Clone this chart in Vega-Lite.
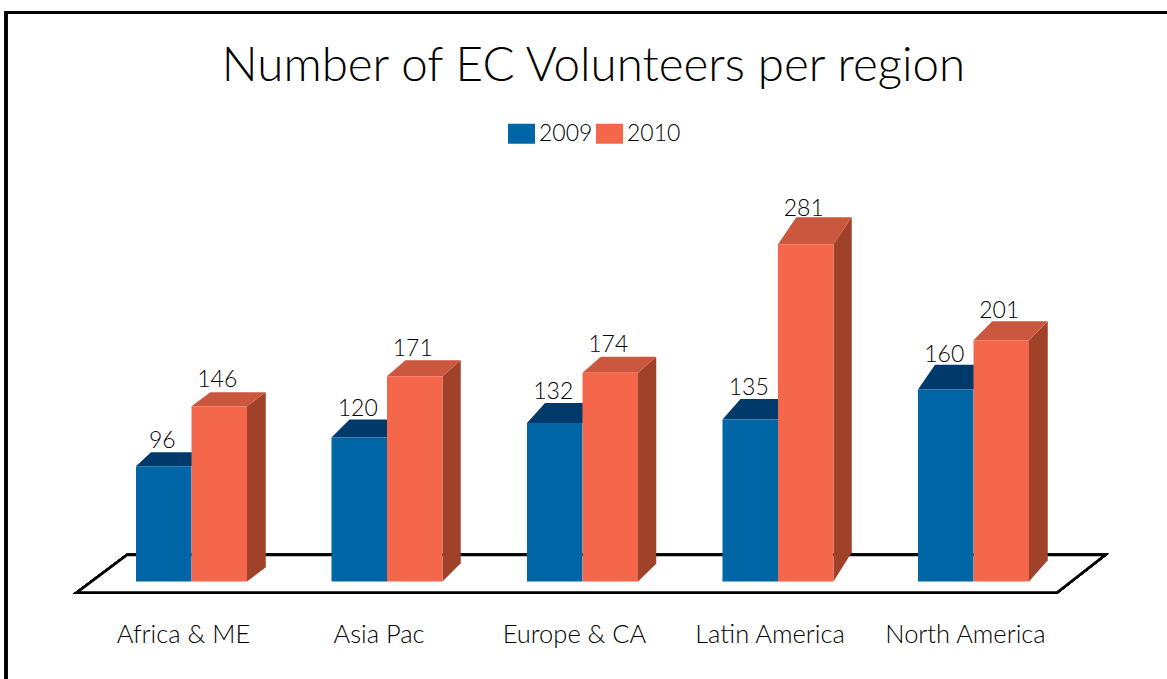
{
"$schema":"https://vega.github.io/schema/vega-lite/v6.json",
"width":1167,"height":582,
"autosize":{"type":"none"},
"padding":{"left":0,"top":0,"right":0,"bottom":97},
"background":"white",
"title":{"text":"Number of EC Volunteers per region","font":"Lato","fontWeight":300,"fontSize":47.5,"color":"#000000","anchor":"middle","baseline":"alphabetic","offset":0,"dy":128,"dx":10},
"config":{"view":{"stroke":null},"font":"Lato"},
"data":{"values":[
{"region":"Africa & ME","year":"2009","value":96},
{"region":"Asia Pac","year":"2009","value":120},
{"region":"Europe & CA","year":"2009","value":132},
{"region":"Latin America","year":"2009","value":135},
{"region":"North America","year":"2009","value":160},
{"region":"Africa & ME","year":"2010","value":146},
{"region":"Asia Pac","year":"2010","value":171},
{"region":"Europe & CA","year":"2010","value":174},
{"region":"Latin America","year":"2010","value":281},
{"region":"North America","year":"2010","value":201}
]},
"layer":[
{"mark":{"type":"point","filled":true,"size":4,"fill":"white","stroke":"black","strokeWidth":2.5,"opacity":1,"strokeJoin":"miter","shape":"M-455.5,-26.5 L522.5,-26.5 L474.5,11 L-505.5,11 Z"},
 "encoding":{"x":{"datum":"Europe & CA","type":"nominal","scale":{"domain":["Africa & ME","Asia Pac","Europe & CA","Latin America","North America"],"range":[93.75,1071.25],"paddingInner":0,"paddingOuter":0}},
 "y":{"datum":0,"type":"quantitative","axis":null,"scale":{"domain":[0,484.6],"range":[581.5,0],"nice":false}}}},
{"mark":{"type":"point","filled":false,"size":4,"fill":null,"stroke":"black","strokeWidth":2.5,"opacity":1,"shape":"M-576.5,100 L-576.5,-569 L590,-569"},
 "encoding":{"x":{"datum":"Europe & CA","type":"nominal"},
 "y":{"datum":0,"type":"quantitative","axis":null,"scale":{"domain":[0,484.6],"range":[581.5,0],"nice":false}}}},
{"transform":[{"filter":"datum.year==='2009'"}],
 "mark":{"type":"point","filled":true,"size":4,"fill":"#003A6B","opacity":1,"strokeWidth":0},
 "encoding":{"x":{"field":"region","type":"nominal"},
 "xOffset":{"field":"year","type":"nominal","scale":{"domain":["2009","2010"],"paddingInner":0,"paddingOuter":0.761}},
 "y":{"field":"value","type":"quantitative","axis":null,"scale":{"domain":[0,484.6],"range":[581.5,0],"nice":false}},
 "shape":{"field":"region","type":"nominal","legend":null,"scale":{"domain":["Africa & ME","Asia Pac","Europe & CA","Latin America","North America"],"range":[
 "M-27.75,0 L27.75,0 L42.75,-14 L-12.75,-14 Z",
 "M-27.75,0 L27.75,0 L45.75,-18 L-9.75,-18 Z",
 "M-27.75,0 L27.75,0 L45.75,-20 L-9.75,-20 Z",
 "M-27.75,0 L27.75,0 L45.75,-20.5 L-9.75,-20.5 Z",
 "M-27.75,0 L27.75,0 L44.75,-24.7 L-10.75,-24.7 Z"]}}}},
{"transform":[{"filter":"datum.year==='2010'"}],
 "mark":{"type":"point","filled":true,"size":4,"fill":"#A0422A","opacity":1,"strokeWidth":0},
 "encoding":{"x":{"field":"region","type":"nominal"},
 "xOffset":{"field":"year","type":"nominal"},
 "y":{"field":"value","type":"quantitative","axis":null,"scale":{"domain":[0,484.6],"range":[581.5,0],"nice":false}},
 "shape":{"field":"region","type":"nominal","legend":null,"scale":{"domain":["Africa & ME","Asia Pac","Europe & CA","Latin America","North America"],"range":[
 "M27.75,0 L46.5,-14 L46.5,161 L27.75,175.2 Z",
 "M27.75,0 L46,-16 L46,187 L27.75,205.2 Z",
 "M27.75,0 L46,-16 L46,191 L27.75,208.8 Z",
 "M27.75,0 L46,-27 L46,308 L27.75,337.2 Z",
 "M27.75,0 L46.5,-19 L46.5,220 L27.75,241.2 Z"]}}}},
{"transform":[{"filter":"datum.year==='2010'"}],
 "mark":{"type":"point","filled":true,"size":4,"fill":"#CC573F","opacity":1,"strokeWidth":0},
 "encoding":{"x":{"field":"region","type":"nominal"},
 "xOffset":{"field":"year","type":"nominal"},
 "y":{"field":"value","type":"quantitative","axis":null,"scale":{"domain":[0,484.6],"range":[581.5,0],"nice":false}},
 "shape":{"field":"region","type":"nominal","legend":null,"scale":{"domain":["Africa & ME","Asia Pac","Europe & CA","Latin America","North America"],"range":[
 "M-27.75,0 L27.75,0 L46.5,-14 L-9,-14 Z",
 "M-27.75,0 L27.75,0 L46,-16 L-9.5,-16 Z",
 "M-27.75,0 L27.75,0 L46,-16 L-9.5,-16 Z",
 "M-27.75,0 L27.75,0 L46,-27 L-9.5,-27 Z",
 "M-27.75,0 L27.75,0 L46.5,-19 L-9,-19 Z"]}}}},
{"mark":{"type":"bar","orient":"vertical"},
 "encoding":{"x":{"field":"region","type":"nominal","title":null,"axis":{"domain":false,"ticks":false,"labelAngle":0,"labelAlign":"center","labelPadding":60,"labelFontSize":25.5,"labelFont":"Lato","labelFontWeight":300,"labelColor":"#000000","labelOffset":-8,"labelBaseline":"alphabetic","grid":false}},
 "xOffset":{"field":"year","type":"nominal"},
 "y":{"field":"value","type":"quantitative","axis":null,"scale":{"domain":[0,484.6],"range":[581.5,0],"nice":false}},
 "color":{"field":"year","type":"nominal","title":null,
  "scale":{"domain":["2009","2010"],"range":["#0066A6","#F4674A"]},
  "legend":{"orient":"none","legendX":510,"legendY":122,"direction":"horizontal","columns":2,"padding":0,"columnPadding":3,"labelOffset":6,"symbolType":"M-1.35,-1 H1.35 V1 H-1.35 Z","symbolSize":400,"symbolStrokeWidth":0,"symbolOpacity":1,"labelFontSize":23,"labelFont":"Lato","labelFontWeight":300,"labelColor":"#000000"}}}},
{"transform":[{"filter":"datum.year==='2009'"}],
 "mark":{"type":"text","fontSize":23,"font":"Lato","fontWeight":300,"color":"#000000","baseline":"alphabetic","align":"center","dx":-1.5},
 "encoding":{"x":{"field":"region","type":"nominal"},"xOffset":{"field":"year","type":"nominal"},
 "y":{"field":"value","type":"quantitative","axis":null,"scale":{"domain":[0,484.6],"range":[577,-74.8],"nice":false}},
 "text":{"field":"value","type":"quantitative"}}},
{"transform":[{"filter":"datum.year==='2010'"}],
 "mark":{"type":"text","fontSize":23,"font":"Lato","fontWeight":300,"color":"#000000","baseline":"alphabetic","align":"center","dx":-2},
 "encoding":{"x":{"field":"region","type":"nominal"},"xOffset":{"field":"year","type":"nominal"},
 "y":{"field":"value","type":"quantitative","axis":null,"scale":{"domain":[0,484.6],"range":[572,-41.5],"nice":false}},
 "text":{"field":"value","type":"quantitative"}}}
],
"resolve":{"scale":{"y":"independent","shape":"independent"}}
}
